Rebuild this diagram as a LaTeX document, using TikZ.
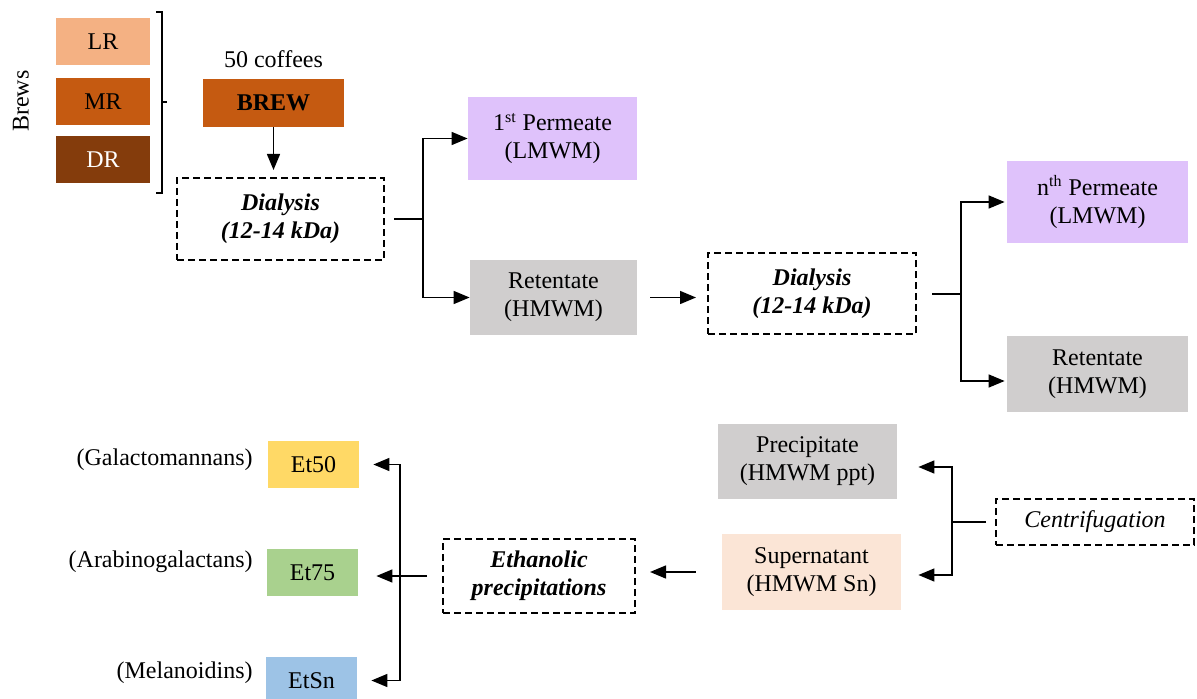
\documentclass[tikz,border=0pt]{standalone}
\usepackage{fontspec}
\setmainfont{Liberation Serif}
\usepackage{tikz}
\usetikzlibrary{arrows.meta,positioning}

\definecolor{lightroast}{HTML}{F4B183}
\definecolor{medroast}{HTML}{C55A11}
\definecolor{darkroast}{HTML}{843C0C}
\definecolor{permcol}{HTML}{DFC2FB}
\definecolor{retcol}{HTML}{D0CECE}
\definecolor{supcol}{HTML}{FBE5D6}
\definecolor{etfifty}{HTML}{FFD966}
\definecolor{etseventy}{HTML}{A9D18E}
\definecolor{etsn}{HTML}{9DC3E6}

\tikzset{
  box/.style={rectangle, inner sep=0pt, align=center, font=\fontsize{12}{14}\selectfont},
  dashbox/.style={box, draw, line width=1pt, dash pattern=on 3.5pt off 2pt},
  conn/.style={line width=0.75pt},
  arr/.style={conn, -{Triangle[length=8pt,width=6.5pt]}},
}

\begin{document}
\begin{tikzpicture}[x=0.5pt, y=-0.5pt]
\useasboundingbox (0,0) rectangle (1197,699);

% roasts and brew
\foreach \nm/\clr/\txtclr/\yy in {LR/lightroast/black/41.5, MR/medroast/black/101.5, DR/darkroast/white/159.5} {
  \node[box, fill=\clr, text=\txtclr, minimum width=47pt, minimum height=23.5pt] (\nm) at (103,\yy) {\nm};
}
\node[box, rotate=90] (brews) at (21,101) {Brews};
\draw[line width=1.2pt] (156,12) -- (162,12) -- (162,193) -- (156,193);
\draw[line width=1.2pt] (162,102) -- (167,102);

\node[box, fill=medroast, minimum width=70.5pt, minimum height=24pt] (brew) at (273.5,103) {\textbf{BREW}};
\node[box, above=5pt of brew] (coffees) {50 coffees};

% first dialysis
\node[dashbox, minimum width=103.5pt, minimum height=41pt] (dial1) at (280.5,219) {\textbf{\textit{Dialysis}}\\\textbf{\textit{(12-14 kDa)}}};
\node[box, fill=permcol, minimum width=84.5pt, minimum height=41.5pt] (perm1) at (552.5,138.5) {1\textsuperscript{st} Permeate\\(LMWM)};
\node[box, fill=retcol, minimum width=83.5pt, minimum height=37.5pt] (ret1) at (553.5,297.5) {Retentate\\(HMWM)};
\coordinate (fork1) at (423,219);

\draw[arr, shorten >=3.5pt] (brew.south) -- (brew.south |- dial1.north);
\draw[conn, shorten <=4.5pt] (dial1.east) -- (fork1);
\draw[arr] (fork1) |- (perm1.west);
\draw[arr] (fork1) |- (ret1.west);

% second dialysis
\node[dashbox, minimum width=104pt, minimum height=40.5pt] (dial2) at (812,294) {\textbf{\textit{Dialysis}}\\\textbf{\textit{(12-14 kDa)}}};
\node[box, fill=permcol, minimum width=90.5pt, minimum height=41pt] (perm2) at (1097.5,202) {n\textsuperscript{th} Permeate\\(LMWM)};
\node[box, fill=retcol, minimum width=90.5pt, minimum height=38pt] (ret2) at (1097.5,374) {Retentate\\(HMWM)};
\coordinate (fork2) at (961,294);

\draw[arr, shorten <=6.5pt, shorten >=5.5pt] (ret1.east) -- (ret1.east -| dial2.west);
\draw[conn, shorten <=7.5pt] (dial2.east) -- (fork2);
\draw[arr, shorten >=1pt] (fork2) |- (perm2.west);
\draw[arr, shorten >=1pt] (fork2) |- ([yshift=-3.5pt]ret2.west);

% centrifugation
\node[dashbox, minimum width=99pt, minimum height=23pt] (centr) at (1095,522) {\textit{Centrifugation}};
\node[box, fill=retcol, minimum width=89.5pt, minimum height=37.5pt] (prec) at (807.5,461.5) {Precipitate\\(HMWM ppt)};
\node[box, fill=supcol, minimum width=89.5pt, minimum height=38pt] (sup) at (811.5,572) {Supernatant\\(HMWM Sn)};
\coordinate (fork3) at (952,522);

\draw[conn, shorten <=4.5pt] (centr.west) -- (fork3);
\draw[arr, shorten >=10.5pt] (fork3) |- ([yshift=-2.75pt]prec.east);
\draw[arr, shorten >=8.5pt] (fork3) |- ([yshift=-1.5pt]sup.east);

% ethanolic precipitations
\node[dashbox, minimum width=96pt, minimum height=37pt] (eth) at (539,576) {\textbf{\textit{Ethanolic}}\\\textbf{\textit{precipitations}}};
\coordinate (fork4) at (400,576);

\draw[arr, shorten <=13pt, shorten >=7pt] (sup.west) -- (sup.west -| eth.east);
\draw[conn, shorten <=7.5pt] (eth.west) -- (fork4);

\foreach \nm/\txt/\clr/\xx/\yy/\lbl/\ly in {et50/Et50/etfifty/313.5/464.5/Galactomannans/460,
    et75/Et75/etseventy/312.5/572.5/Arabinogalactans/562,
    etsn/EtSn/etsn/311.5/680.5/Melanoidins/673} {
  \node[box, fill=\clr, minimum width=45.5pt, minimum height=23.5pt] (\nm) at (\xx,\yy) {\txt};
  \node[box, anchor=east] (\nm lbl) at (253,\ly) {(\lbl)};
}

\draw[arr, shorten >=7pt] (fork4) |- (et50.east);
\draw[arr, shorten >=9pt] (fork4) -- (fork4 -| et75.east);
\draw[arr, shorten >=7pt] (fork4) |- (etsn.east);
\end{tikzpicture}
\end{document}
